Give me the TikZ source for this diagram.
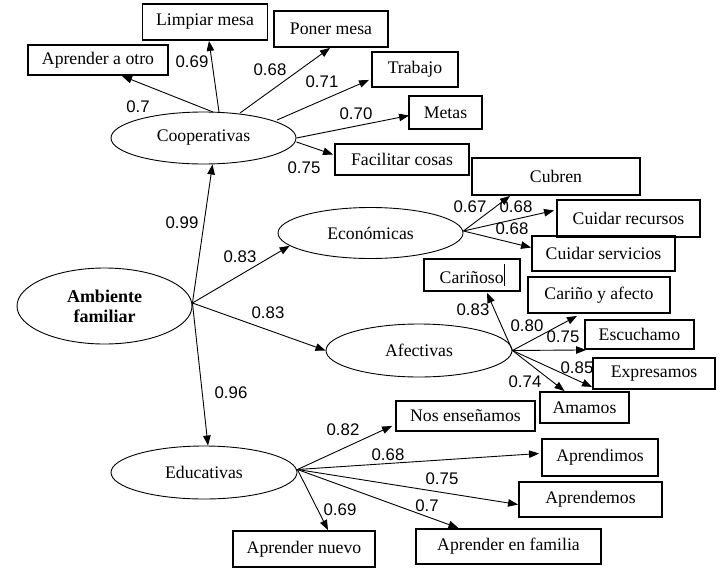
\documentclass[tikz,border=0pt]{standalone}
\usepackage{fontspec}
\setmainfont{Liberation Serif}
\newfontfamily\numfont{Liberation Sans}
\usetikzlibrary{arrows.meta,calc,shapes.geometric}
\tikzset{
  box/.style={draw,line width=1.9pt,inner sep=0pt,align=center,font=\fontsize{17.7}{19}\selectfont},
  lat/.style={draw,ellipse,line width=0.9pt,inner sep=0pt,align=center,font=\fontsize{17.7}{19}\selectfont},
  arr/.style={line width=0.9pt,-{Triangle[length=10pt,width=7.5pt]}},
  coef/.style={inner sep=0pt,font=\numfont\fontsize{16.8}{18}\selectfont}
}
\begin{document}
\begin{tikzpicture}[x=1pt,y=-1pt]
\useasboundingbox (0,0) rectangle (723,571);
% latent variables
\node[lat,minimum width=175pt,minimum height=76pt,font=\bfseries\fontsize{18}{20}\selectfont] (amb) at (104.5,306) {Ambiente\\familiar};
\node[lat,minimum width=185pt,minimum height=52pt] (co) at (203.5,138) {Cooperativas};
\node[lat,minimum width=185pt,minimum height=51pt] (ec) at (370.5,233) {Económicas};
\node[lat,minimum width=186pt,minimum height=53pt] (afe) at (419,350.5) {Afectivas};
\node[lat,minimum width=186pt,minimum height=53pt] (ed) at (204,472.5) {Educativas};
% indicators
\node[box,minimum width=125pt,minimum height=36pt] (lm) at (205,22) {Limpiar mesa};
\node[box,minimum width=140pt,minimum height=30pt] (ao) at (98,60) {Aprender a otro};
\node[box,minimum width=114pt,minimum height=36pt] (pm) at (331,29) {Poner mesa};
\node[box,minimum width=86pt,minimum height=35pt] (tr) at (415,69.5) {Trabajo};
\node[box,minimum width=73pt,minimum height=33pt] (me) at (445.5,112.5) {Metas};
\node[box,minimum width=134pt,minimum height=31pt] (fc) at (402,159.5) {Facilitar cosas};
\node[box,minimum width=168pt,minimum height=37pt] (cu) at (556,176.5) {Cubren};
\node[box,minimum width=143pt,minimum height=37pt] (cr) at (628.5,218.5) {Cuidar recursos};
\node[box,minimum width=143pt,minimum height=35pt] (cs) at (603.5,253.5) {Cuidar servicios};
\node[box,minimum width=96pt,minimum height=32pt] (ca) at (472,275) {Cariñoso\rule[-0.25ex]{0.6pt}{2.6ex}};
\node[box,minimum width=142pt,minimum height=36pt] (cya) at (599,295) {Cariño y afecto};
\node[box,minimum width=109pt,minimum height=29pt] (es) at (639.5,334.5) {Escuchamo};
\node[box,minimum width=122pt,minimum height=31pt] (ex) at (654,373.5) {Expresamos};
\node[box,minimum width=89pt,minimum height=31pt] (am) at (584.5,407.5) {Amamos};
\node[box,minimum width=139pt,minimum height=30pt] (ne) at (465.5,416) {Nos enseñamos};
\node[box,minimum width=116pt,minimum height=37pt] (ad) at (600,457.5) {Aprendimos};
\node[box,minimum width=143pt,minimum height=35pt] (ae) at (590.5,499.5) {Aprendemos};
\node[box,minimum width=142pt,minimum height=36pt] (an) at (304,549) {Aprender nuevo};
\node[box,minimum width=185pt,minimum height=35pt] (af) at (508.5,546.5) {Aprender en familia};
% structural paths
\draw[arr] ($(amb.east)+(0,-3)$) -- ($(co.south)+(9,0)$);
\draw[arr] ($(amb.east)+(0,-3)$) -- (ec.189);
\draw[arr] ($(amb.east)+(0,-3)$) -- (afe.west);
\draw[arr] ($(amb.east)+(0,-3)$) -- ($(ed.north)+(4,0)$);
% cooperativas
\draw[arr] ($(co)+(9.5,-26)$) -- ($(ao.south)+(24,0)$);
\draw[arr] ($(co)+(15.5,-26)$) -- ($(lm.south)+(4,0)$);
\draw[arr] ($(co)+(36.5,-25)$) -- ($(pm.south)+(-1,0)$);
\draw[arr] ($(co)+(73.5,-18)$) -- ($(tr.south west)+(-2,-8)$);
\draw[arr] (co.east) -- ($(me.west)+(1,3)$);
\draw[arr] ($(co.east)+(0,4)$) -- ($(fc.west)+(-1,-5)$);
% economicas
\draw[arr] ($(ec.east)+(0,-2)$) -- ($(cu.south)+(-46,0)$);
\draw[arr] ($(ec.east)+(0,-2)$) -- ($(cr.west)+(-2,-8)$);
\draw[arr] ($(ec.east)+(0,-2)$) -- ($(cs.west)+(0,-6)$);
% afectivas
\draw[arr] (afe.east) -- ($(ca.south)+(15,1)$);
\draw[arr] (afe.east) -- ($(cya.south)+(-22,2)$);
\draw[arr] (afe.east) -- ($(es.south west)+(2,0)$);
\draw[arr] (afe.east) -- ($(ex.south west)+(0,-3)$);
\draw[arr] (afe.east) -- ($(am.north)+(-20,0)$);
% educativas
\draw[arr] ($(ed.east)+(0,-3)$) -- ($(ne.south west)+(-3,-6)$);
\draw[arr] ($(ed.east)+(0,-3)$) -- ($(ad.west)+(-2,-4)$);
\draw[arr] ($(ed.east)+(0,-3)$) -- ($(ae.west)+(0,5)$);
\draw[arr] ($(ed.east)+(0,-3)$) -- ($(af.north)+(-50,0)$);
\draw[arr] ($(ed.east)+(0,-3)$) -- ($(an.north)+(24,0)$);
% coefficients
\node[coef] (k1) at (138,107) {0.7};
\node[coef] (k2) at (192,62) {0.69};
\node[coef] (k3) at (270,70) {0.68};
\node[coef] (k4) at (322,82) {0.71};
\node[coef] (k5) at (356,114) {0.70};
\node[coef] (k6) at (304,168) {0.75};
\node[coef] (k7) at (182,223) {0.99};
\node[coef] (k8) at (240,257) {0.83};
\node[coef] (k9) at (268,313) {0.83};
\node[coef] (k10) at (231,393) {0.96};
\node[coef] (k11) at (470,207) {0.67};
\node[coef] (k12) at (516,207) {0.68};
\node[coef] (k13) at (512,229) {0.68};
\node[coef] (k14) at (473,310) {0.83};
\node[coef] (k15) at (527,326) {0.80};
\node[coef] (k16) at (563,337) {0.75};
\node[coef] (k17) at (577,368) {0.85};
\node[coef] (k18) at (525,382) {0.74};
\node[coef] (k19) at (343,430) {0.82};
\node[coef] (k20) at (388,455) {0.68};
\node[coef] (k21) at (442,479) {0.75};
\node[coef] (k22) at (427,506) {0.7};
\node[coef] (k23) at (340,510) {0.69};
\end{tikzpicture}
\end{document}
